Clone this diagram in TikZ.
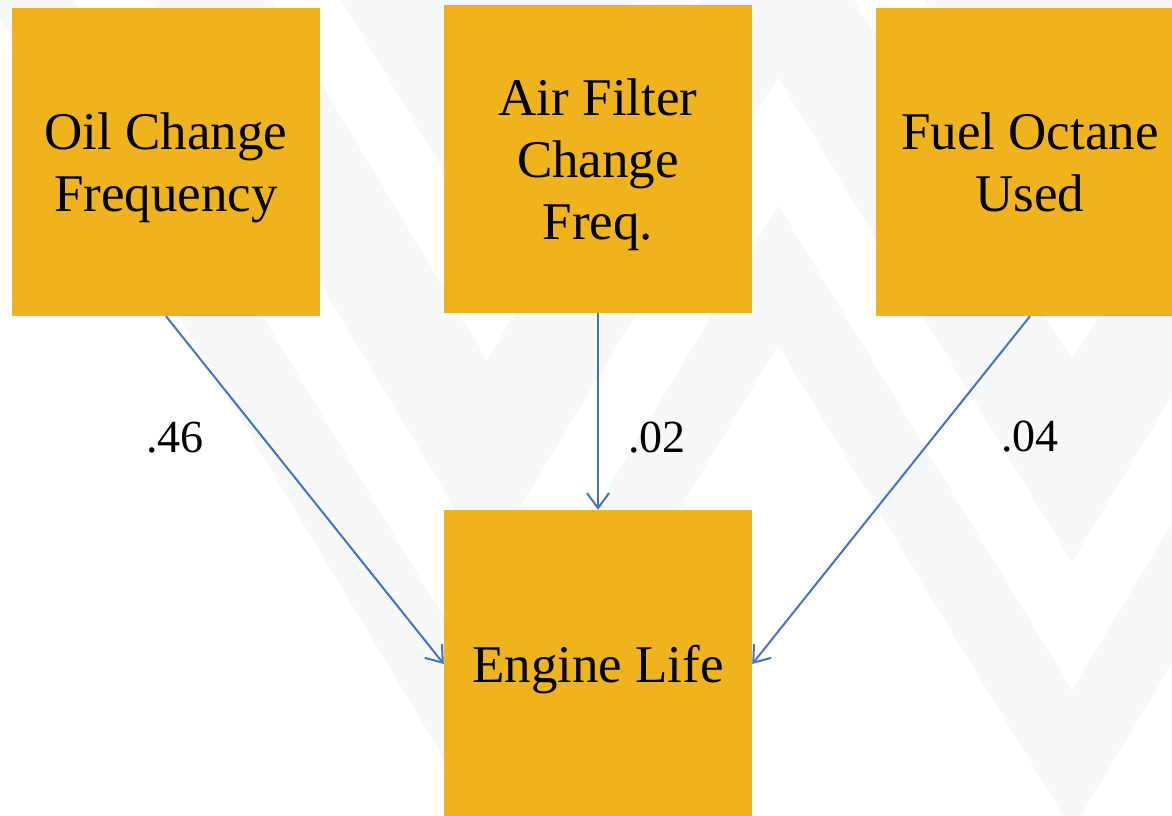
\documentclass[tikz,border=0pt]{standalone}
\usepackage{fontspec}
\setmainfont{Liberation Serif}
\usetikzlibrary{arrows.meta}
\definecolor{boxfill}{RGB}{239,179,30}
\definecolor{linkblue}{RGB}{68,114,196}
\definecolor{watermark}{RGB}{247,248,250}

\tikzset{
  factor/.style={fill=boxfill, minimum width=308pt, minimum height=308pt, inner sep=0pt, text depth=0pt, align=center, font=\fontsize{53}{62}\selectfont},
  link/.style={draw=linkblue, line width=2pt, -{Straight Barb[length=15pt,width=22pt]}},
  weight/.style={inner sep=0pt, font=\fontsize{46}{55}\selectfont}
}

\begin{document}
\begin{tikzpicture}[x=1pt,y=-1pt]

\clip (0,0) rectangle (1172,816);

% background chevrons
\foreach \a/\b in {-300/243, 360/562, 690/830} {
  \fill[watermark] (-300,\a-1312) -- (487,\a) -- (778,\a-485) -- (1072,\a) -- (1500,\a-713)
    -- (1500,\b-713) -- (1072,\b) -- (778,\b-485) -- (487,\b) -- (-300,\b-1312) -- cycle;
}

% factors
\node[factor] (oil) at (166,162) {Oil Change\\Frequency};
\node[factor] (air) at (598,159) {Air Filter\\Change\\Freq.};
\node[factor] (fuel) at (1030,162) {Fuel Octane\\Used};

% outcome
\node[factor] (life) at (598,664) {Engine Life};

% paths
\draw[link] (oil.south) -- (life.west);
\draw[link] (air.south) -- (life.north);
\draw[link] (fuel.south) -- (life.east);

\node[weight] (w46) at (175,438) {.46};
\node[weight] (w02) at (657,438) {.02};
\node[weight] (w04) at (1030,437) {.04};

\end{tikzpicture}
\end{document}
